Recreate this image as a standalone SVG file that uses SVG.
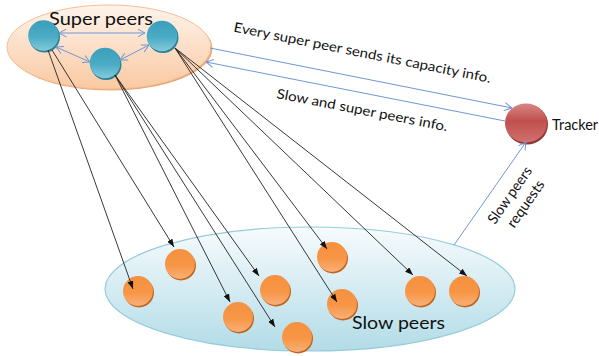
<svg xmlns="http://www.w3.org/2000/svg" width="599" height="356" viewBox="0 0 599 356">
<defs>
  <linearGradient id="gTop" x1="0" y1="0" x2="0" y2="1">
    <stop offset="0" stop-color="#FEF4EC"/>
    <stop offset="1" stop-color="#FAC9A2"/>
  </linearGradient>
  <linearGradient id="gBot" x1="0" y1="0" x2="0" y2="1">
    <stop offset="0" stop-color="#F7FBFD"/>
    <stop offset="1" stop-color="#B2DCE7"/>
  </linearGradient>
  <linearGradient id="gSuper" x1="0" y1="0" x2="0" y2="1">
    <stop offset="0" stop-color="#3A9FBB"/>
    <stop offset="0.55" stop-color="#4BACC6"/>
    <stop offset="1" stop-color="#85CADB"/>
  </linearGradient>
  <linearGradient id="gSlow" x1="0" y1="0" x2="0" y2="1">
    <stop offset="0" stop-color="#F5913F"/>
    <stop offset="0.55" stop-color="#F79646"/>
    <stop offset="1" stop-color="#F9B078"/>
  </linearGradient>
  <linearGradient id="gTrack" x1="0" y1="0" x2="0" y2="1">
    <stop offset="0" stop-color="#D88684"/>
    <stop offset="0.45" stop-color="#C0504D"/>
    <stop offset="1" stop-color="#D0716E"/>
  </linearGradient>
  <marker id="ab" markerWidth="8" markerHeight="6" refX="8" refY="3" orient="auto" markerUnits="userSpaceOnUse">
    <path d="M0,0 L8,3 L0,6 Z" fill="#111"/>
  </marker>
  <marker id="ob" markerWidth="8" markerHeight="9" refX="7.5" refY="4.5" orient="auto" markerUnits="userSpaceOnUse">
    <path d="M0,0.5 L7.5,4.5 L0,8.5" fill="none" stroke="#6F97D6" stroke-width="1"/>
  </marker>
  <marker id="os" markerWidth="8" markerHeight="9" refX="0.5" refY="4.5" orient="auto" markerUnits="userSpaceOnUse">
    <path d="M8,0.5 L0.5,4.5 L8,8.5" fill="none" stroke="#6F97D6" stroke-width="1"/>
  </marker>
</defs>
<style>
  text { font-family: Lato, "Open Sans", "Liberation Sans", sans-serif; fill: #111; }
  .blk { stroke: #222; stroke-width: 0.9; fill: none; marker-end: url(#ab); }
  .blu { stroke: #6F97D6; stroke-width: 1; fill: none; }
  .sup { fill: url(#gSuper); }
  .supS { fill: #2C7F94; }
  .slw { fill: url(#gSlow); }
  .slwS { fill: #C0651F; }
</style>

<g id="super-peers-group">
  <ellipse cx="110.5" cy="48.5" rx="102" ry="42" fill="#E9A879"/>
  <ellipse cx="109" cy="47" rx="102" ry="42" fill="url(#gTop)" stroke="#F6BE95" stroke-width="1"/>
  <text x="49" y="25" font-size="18" textLength="104" lengthAdjust="spacingAndGlyphs">Super peers</text>
</g>

<g id="slow-peers-group">
  <ellipse cx="310" cy="289" rx="205" ry="62" fill="url(#gBot)" stroke="#96CCDB" stroke-width="1.2"/>
  <text x="352" y="329" font-size="17" textLength="93" lengthAdjust="spacingAndGlyphs">Slow peers</text>
</g>

<g id="super-peer-a"><circle cx="44.5" cy="37" r="15.5" class="supS"/><circle cx="43.5" cy="35.5" r="15.3" class="sup"/></g>
<g id="super-peer-b"><circle cx="163" cy="37.5" r="15.5" class="supS"/><circle cx="162" cy="36" r="15.3" class="sup"/></g>
<g id="super-peer-c"><circle cx="106" cy="64.5" r="15.5" class="supS"/><circle cx="105" cy="63" r="15.3" class="sup"/></g>

<g id="tracker">
  <ellipse cx="527" cy="124.5" rx="21" ry="20" fill="#8E3936"/>
  <ellipse cx="526" cy="123" rx="21" ry="19.5" fill="url(#gTrack)"/>
  <text x="552" y="130" font-size="14.5">Tracker</text>
</g>

<g id="slow-peer-1"><circle cx="139" cy="292.5" r="15" class="slwS"/><circle cx="138" cy="291" r="15" class="slw"/></g>
<g id="slow-peer-2"><circle cx="181" cy="265.5" r="15" class="slwS"/><circle cx="180" cy="264" r="15" class="slw"/></g>
<g id="slow-peer-3"><circle cx="276" cy="291.5" r="15" class="slwS"/><circle cx="275" cy="290" r="15" class="slw"/></g>
<g id="slow-peer-4"><circle cx="239" cy="318.5" r="15" class="slwS"/><circle cx="238" cy="317" r="15" class="slw"/></g>
<g id="slow-peer-5"><circle cx="298" cy="338.5" r="15" class="slwS"/><circle cx="297" cy="337" r="15" class="slw"/></g>
<g id="slow-peer-6"><circle cx="333" cy="258.5" r="15" class="slwS"/><circle cx="332" cy="257" r="15" class="slw"/></g>
<g id="slow-peer-7"><circle cx="343" cy="305.5" r="15" class="slwS"/><circle cx="342" cy="304" r="15" class="slw"/></g>
<g id="slow-peer-8"><circle cx="421" cy="292.5" r="15" class="slwS"/><circle cx="420" cy="291" r="15" class="slw"/></g>
<g id="slow-peer-9"><circle cx="465" cy="292.5" r="15" class="slwS"/><circle cx="464" cy="291" r="15" class="slw"/></g>

<g id="connectors">
  <line class="blu" x1="59" y1="33" x2="145" y2="33" marker-start="url(#os)" marker-end="url(#ob)"/>
  <line class="blu" x1="56" y1="47" x2="90" y2="62" marker-start="url(#os)" marker-end="url(#ob)"/>
  <line class="blu" x1="120" y1="60" x2="149" y2="45" marker-start="url(#os)" marker-end="url(#ob)"/>
  <line class="blu" x1="210" y1="48" x2="512" y2="108" marker-end="url(#ob)"/>
  <line class="blu" x1="505" y1="121" x2="206" y2="62" marker-end="url(#ob)"/>
  <line class="blu" x1="454" y1="245" x2="526" y2="142" marker-end="url(#ob)"/>

  <line class="blk" x1="48" y1="50" x2="133" y2="289"/>
  <line class="blk" x1="52" y1="50" x2="174" y2="247"/>
  <line class="blk" x1="115" y1="75" x2="230" y2="302"/>
  <line class="blk" x1="115" y1="75" x2="275" y2="327"/>
  <line class="blk" x1="115" y1="75" x2="259" y2="276"/>
  <line class="blk" x1="175" y1="48" x2="327" y2="249"/>
  <line class="blk" x1="175" y1="48" x2="337" y2="302"/>
  <line class="blk" x1="175" y1="48" x2="413" y2="275"/>
  <line class="blk" x1="175" y1="48" x2="467" y2="276"/>
</g>

<g id="labels">
  <text transform="translate(233,31.5) rotate(11.3)" font-size="13.5" textLength="262" lengthAdjust="spacingAndGlyphs">Every super peer sends its capacity info.</text>
  <text transform="translate(276,98) rotate(11)" font-size="13.5" textLength="174" lengthAdjust="spacingAndGlyphs">Slow and super peers info.</text>
  <g transform="translate(517.5,200.5) rotate(-55)">
    <text x="0" y="-4.5" font-size="14.5" text-anchor="middle" textLength="66" lengthAdjust="spacingAndGlyphs">Slow peers</text>
    <text x="2" y="13.5" font-size="14.5" text-anchor="middle" textLength="54" lengthAdjust="spacingAndGlyphs">requests</text>
  </g>
</g>
</svg>
